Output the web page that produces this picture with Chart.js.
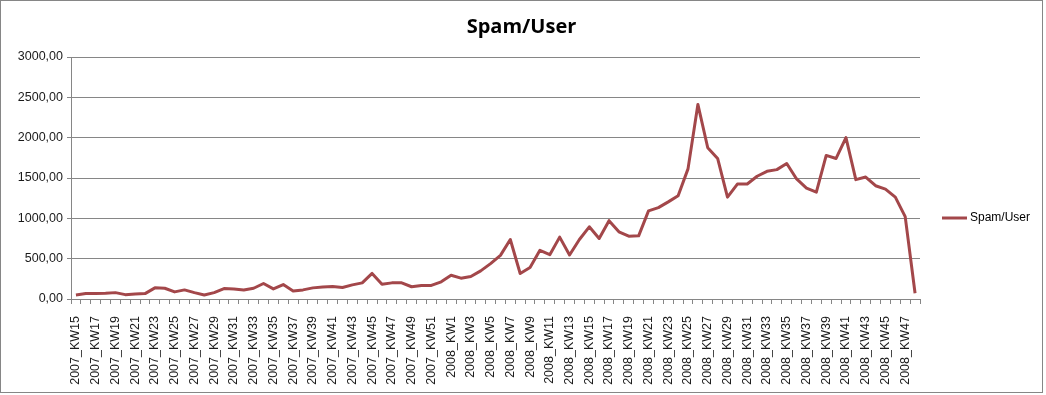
<!DOCTYPE html>
<html>
<head>
<meta charset="utf-8">
<title>Spam/User</title>
<script src="https://cdn.jsdelivr.net/npm/chart.js@4/dist/chart.umd.min.js"></script>
<style>
  html, body { margin: 0; padding: 0; background: #fff; }
  #frame {
    position: absolute; left: 0; top: 0;
    width: 1041px; height: 391px;
    border: 1px solid #868686;
  }
  #frame canvas { display: block; }
</style>
</head>
<body>
<div id="frame"><canvas id="spamChart"></canvas></div>
<script>
'use strict';

/* ── DATA ── */
const WEEKS = [
  '2007_KW15', '2007_KW16', '2007_KW17', '2007_KW18', '2007_KW19', '2007_KW20', '2007_KW21', '2007_KW22',
  '2007_KW23', '2007_KW24', '2007_KW25', '2007_KW26', '2007_KW27', '2007_KW28', '2007_KW29', '2007_KW30',
  '2007_KW31', '2007_KW32', '2007_KW33', '2007_KW34', '2007_KW35', '2007_KW36', '2007_KW37', '2007_KW38',
  '2007_KW39', '2007_KW40', '2007_KW41', '2007_KW42', '2007_KW43', '2007_KW44', '2007_KW45', '2007_KW46',
  '2007_KW47', '2007_KW48', '2007_KW49', '2007_KW50', '2007_KW51', '2007_KW52',
  '2008_KW1', '2008_KW2', '2008_KW3', '2008_KW4', '2008_KW5', '2008_KW6', '2008_KW7', '2008_KW8',
  '2008_KW9', '2008_KW10', '2008_KW11', '2008_KW12', '2008_KW13', '2008_KW14', '2008_KW15', '2008_KW16',
  '2008_KW17', '2008_KW18', '2008_KW19', '2008_KW20', '2008_KW21', '2008_KW22', '2008_KW23', '2008_KW24',
  '2008_KW25', '2008_KW26', '2008_KW27', '2008_KW28', '2008_KW29', '2008_KW30', '2008_KW31', '2008_KW32',
  '2008_KW33', '2008_KW34', '2008_KW35', '2008_KW36', '2008_KW37', '2008_KW38', '2008_KW39', '2008_KW40',
  '2008_KW41', '2008_KW42', '2008_KW43', '2008_KW44', '2008_KW45', '2008_KW46', '2008_KW47', '2008_KW48'
];

const SPAM_2007 = [
  50, 67, 67, 71, 79, 54, 63, 67,
  138, 133, 88, 113, 79, 50, 79, 129,
  125, 112, 133, 192, 125, 179, 100, 113,
  138, 150, 154, 142, 175, 200, 317, 183,
  200, 200, 152, 168, 168, 213
];

const SPAM_2008 = [
  295, 258, 279, 349, 439, 541, 738, 316,
  390, 603, 549, 767, 545, 738, 895, 750,
  971, 833, 779, 783, 1092, 1133, 1204, 1280,
  1613, 2412, 1875, 1742, 1263, 1425, 1425, 1522,
  1583, 1604, 1680, 1488, 1375, 1325, 1780, 1742,
  2000, 1480, 1512, 1404, 1363, 1263, 1021, 72
];

const SERIES_NAME = 'Spam/User';
const Y_MAX = 3000;
const Y_STEP = 500;

/* ── STYLE ── */
const COLORS = {
  line: '#A3474A',
  grid: '#868686',
  text: '#1a1a1a'
};

Chart.defaults.font.family = "'Liberation Sans', Arial, sans-serif";
Chart.defaults.color = COLORS.text;

// simple Excel-like legend at the right side
const sideLegend = {
  id: 'sideLegend',
  afterDraw(chart) {
    const ctx = chart.ctx;
    const ds = chart.data.datasets[0];
    const y = 217;
    ctx.save();
    ctx.strokeStyle = ds.borderColor;
    ctx.lineWidth = 3;
    ctx.beginPath();
    ctx.moveTo(941, y);
    ctx.lineTo(966, y);
    ctx.stroke();
    ctx.fillStyle = '#000';
    ctx.font = "12px 'Liberation Sans', Arial, sans-serif";
    ctx.textBaseline = 'middle';
    ctx.textAlign = 'left';
    ctx.fillText(ds.label, 969, y);
    ctx.restore();
  }
};

new Chart(document.getElementById('spamChart'), {
  type: 'line',
  data: {
    labels: WEEKS,
    datasets: [{
      label: SERIES_NAME,
      data: SPAM_2007.concat(SPAM_2008),
      borderColor: COLORS.line,
      backgroundColor: COLORS.line,
      borderWidth: 3,
      pointRadius: 0,
      tension: 0,
      borderJoinStyle: 'round',
      yAxisID: 'y'
    }]
  },
  options: {
    responsive: true,
    maintainAspectRatio: false,
    animation: false,
    layout: { padding: 0 },
    plugins: {
      legend: { display: false },
      tooltip: { enabled: false },
      title: {
        display: true,
        text: SERIES_NAME,
        color: '#000',
        font: { family: "'Open Sans', sans-serif", size: 20, weight: 'bold' },
        padding: { top: 14, bottom: 18 }
      }
    },
    scales: {
      x: {
        offset: true,
        grid: { drawOnChartArea: false, offset: true, color: COLORS.grid, tickLength: 5 },
        border: { color: COLORS.grid },
        ticks: {
          autoSkip: false,
          minRotation: 90,
          maxRotation: 90,
          padding: 12,
          font: { size: 12.5 },
          callback: function (v, i) { return i % 2 === 0 ? this.getLabelForValue(v) : ''; }
        },
        afterFit: s => { s.height = 93; }
      },
      y: {
        min: 0,
        max: Y_MAX,
        grid: { color: COLORS.grid, tickLength: 4 },
        border: { color: COLORS.grid },
        ticks: {
          stepSize: Y_STEP,
          padding: 4,
          font: { size: 12.5 },
          callback: v => v.toFixed(2).replace('.', ',')
        },
        afterFit: s => { s.width = 70; }
      },
      // empty right axis only reserves room for the legend
      yR: {
        position: 'right',
        grid: { display: false },
        border: { display: false },
        ticks: { display: false },
        afterFit: s => { s.width = 122; }
      }
    }
  },
  plugins: [sideLegend]
});
</script>
</body>
</html>
